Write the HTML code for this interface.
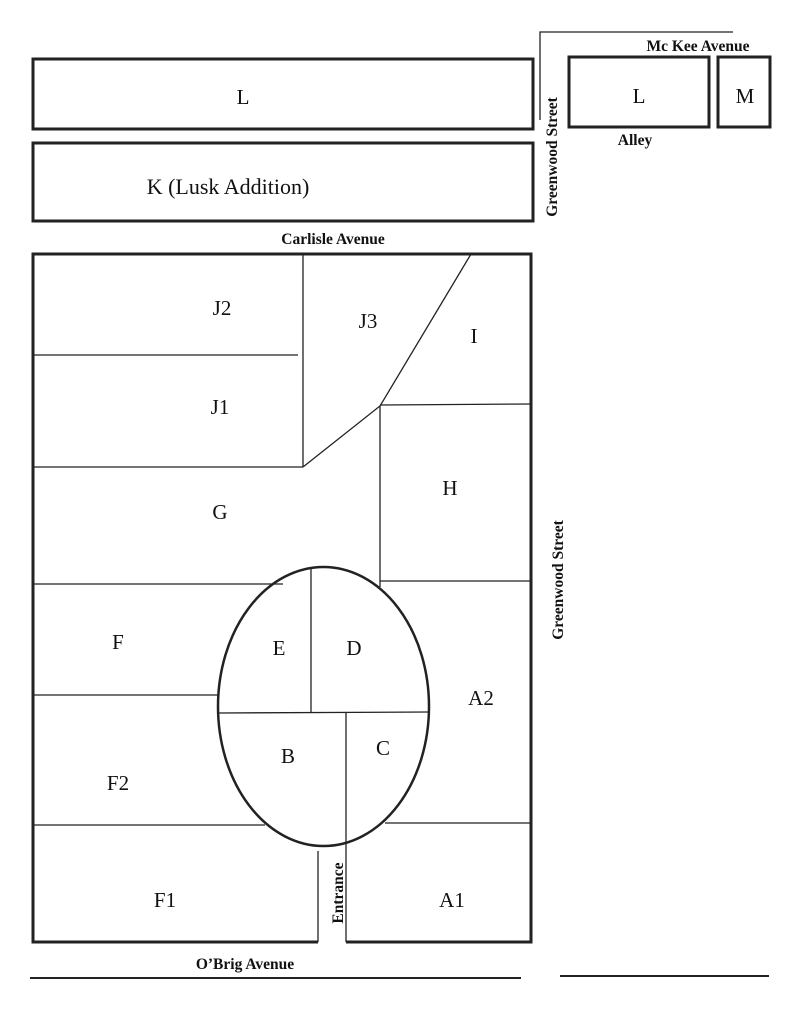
<!DOCTYPE html>
<html><head><meta charset="utf-8"><style>
html,body{margin:0;padding:0;background:#fff;}
svg{display:block;}
.t{font-family:"Liberation Serif",serif;font-size:21px;fill:#111;text-anchor:middle;}
.b{font-family:"Liberation Serif",serif;font-size:15.5px;font-weight:bold;fill:#111;text-anchor:middle;}
</style></head><body>
<svg width="791" height="1024" viewBox="0 0 791 1024" xmlns="http://www.w3.org/2000/svg">
<g fill="none" stroke="#222">
<rect x="33" y="59" width="500" height="70" stroke-width="3"/>
<rect x="33" y="143" width="500" height="78" stroke-width="3"/>
<rect x="569" y="57" width="140" height="70" stroke-width="3"/>
<rect x="718" y="57" width="52" height="70" stroke-width="3"/>
<polyline points="540,120 540,32 733,32" stroke-width="1.3"/>
<path d="M318,942 L33,942 L33,254 L531,254 L531,942 L346,942" stroke-width="3"/>
<g stroke-width="1.3">
<line x1="33" y1="355" x2="298" y2="355"/>
<line x1="303" y1="254" x2="303" y2="467"/>
<line x1="33" y1="467" x2="303" y2="467"/>
<polyline points="303,467 380,406 471,254"/>
<line x1="380" y1="406" x2="380" y2="587"/>
<line x1="380" y1="405" x2="531" y2="404"/>
<line x1="380" y1="581" x2="531" y2="581"/>
<line x1="33" y1="584" x2="283" y2="584"/>
<line x1="33" y1="695" x2="218" y2="695"/>
<line x1="33" y1="825" x2="265" y2="825"/>
<line x1="385" y1="823" x2="531" y2="823"/>
<line x1="311" y1="567" x2="311" y2="712"/>
<line x1="218" y1="713" x2="429" y2="712"/>
<line x1="346" y1="712" x2="346" y2="942"/>
<line x1="318" y1="851" x2="318" y2="942"/>
</g>
<ellipse cx="323.5" cy="706.5" rx="105.5" ry="139.5" stroke-width="2.5"/>
<line x1="30" y1="978" x2="521" y2="978" stroke-width="2"/>
<line x1="560" y1="976" x2="769" y2="976" stroke-width="2"/>
</g>
<text class="t" x="243" y="104">L</text>
<text class="t" x="228" y="194" style="font-size:22px">K (Lusk Addition)</text>
<text class="t" x="639" y="103">L</text>
<text class="t" x="745" y="103">M</text>
<text class="b" x="698" y="51">Mc Kee Avenue</text>
<text class="b" x="635" y="145">Alley</text>
<text class="b" x="333" y="244">Carlisle Avenue</text>
<text class="b" transform="translate(557,157) rotate(-90)">Greenwood Street</text>
<text class="b" transform="translate(563,580) rotate(-90)">Greenwood Street</text>
<text class="b" x="245" y="969">O’Brig Avenue</text>
<text class="b" transform="translate(343,893) rotate(-90)">Entrance</text>
<text class="t" x="222" y="315">J2</text>
<text class="t" x="368" y="328">J3</text>
<text class="t" x="474" y="343">I</text>
<text class="t" x="220" y="414">J1</text>
<text class="t" x="450" y="495">H</text>
<text class="t" x="220" y="519">G</text>
<text class="t" x="118" y="649">F</text>
<text class="t" x="279" y="655">E</text>
<text class="t" x="354" y="655">D</text>
<text class="t" x="481" y="705">A2</text>
<text class="t" x="288" y="763">B</text>
<text class="t" x="383" y="755">C</text>
<text class="t" x="118" y="790">F2</text>
<text class="t" x="165" y="907">F1</text>
<text class="t" x="452" y="907">A1</text>
</svg>
</body></html>
